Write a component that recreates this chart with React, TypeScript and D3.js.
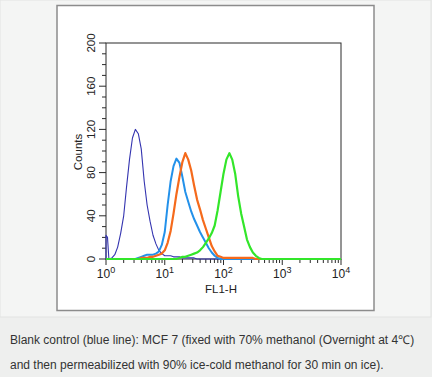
import React from "react";
import * as d3 from "d3";

// FL1-H value, count pairs
const navySeries: [number, number][] = [
  [1, 0], [1, 22], [1.06, 20], [1.12, 0], [1.26, 1], [1.41, 4], [1.58, 11], [1.78, 24], [2, 40], [2.24, 67],
  [2.51, 92], [2.82, 112], [3.16, 120], [3.55, 116], [3.98, 102], [4.47, 72], [5.01, 50],
  [5.62, 35], [6.31, 22], [7.08, 14], [7.94, 8], [8.91, 5], [10, 3], [11.2, 3], [12.6, 3],
  [14.1, 2], [15.8, 2], [17.8, 2], [20, 1], [22.4, 1], [25.1, 1], [28.2, 1], [31.6, 1],
  [35.5, 0], [10000, 0],
];
const lightBlueSeries: [number, number][] = [
  [1, 0], [3.16, 0], [3.55, 1], [3.98, 2], [4.47, 3], [5.01, 4], [5.62, 4], [6.31, 4], [7.08, 5],
  [7.94, 7], [8.91, 13], [10, 25], [11.2, 50], [12.6, 72], [14.1, 86], [15.8, 93], [17.8, 89],
  [20, 76], [22.4, 62], [25.1, 53], [28.2, 44], [31.6, 37], [35.5, 31], [39.8, 25], [44.7, 20],
  [50.1, 15], [56.2, 10], [63.1, 6], [70.8, 3], [79.4, 1], [89.1, 0], [10000, 0],
];
const orangeSeries: [number, number][] = [
  [1, 0], [3.55, 0], [3.98, 1], [4.47, 1], [5.01, 1], [5.62, 2], [6.31, 2], [7.08, 3], [7.94, 4],
  [8.91, 5], [10, 8], [11.2, 15], [12.6, 26], [14.1, 42], [15.8, 60], [17.8, 76], [20, 90],
  [22.4, 98], [25.1, 92], [28.2, 82], [31.6, 68], [35.5, 55], [39.8, 46], [44.7, 36], [50.1, 28],
  [56.2, 20], [63.1, 12], [70.8, 7], [79.4, 3], [89.1, 2], [100, 1], [112, 1], [126, 1],
  [141, 1], [158, 1], [178, 1], [200, 1], [224, 1], [251, 1], [282, 1], [316, 1], [355, 0],
  [10000, 0],
];
const greenSeries: [number, number][] = [
  [1, 0], [15.8, 0], [17.8, 1], [20, 2], [22.4, 2], [25.1, 3], [28.2, 4], [31.6, 5], [35.5, 6],
  [39.8, 8], [44.7, 11], [50.1, 15], [56.2, 19], [63.1, 24], [70.8, 31], [79.4, 45], [89.1, 62],
  [100, 79], [112, 92], [126, 98], [141, 92], [158, 79], [178, 58], [200, 42], [224, 30],
  [251, 18], [282, 11], [316, 6], [355, 3], [398, 1], [447, 0], [10000, 0],
];

const yTickValues = [0, 40, 80, 120, 160, 200];
const xDecades = [1, 10, 100, 1000, 10000];
const xExponents = ["0", "1", "2", "3", "4"];
const captionLines = [
  "Blank control (blue line): MCF 7 (fixed with 70% methanol (Overnight at 4℃)",
  "and then permeabilized with 90% ice-cold methanol for 30 min on ice).",
];

const series = [
  { data: navySeries, color: "#3434b0", width: 1.1 },
  { data: lightBlueSeries, color: "#2391ea", width: 2 },
  { data: orangeSeries, color: "#f56a1c", width: 2.2 },
  { data: greenSeries, color: "#33e62a", width: 2.2 },
];

export default function App() {
  const x = d3.scaleLog().domain([1, 10000]).range([106, 341]);
  const y = d3.scaleLinear().domain([0, 200]).range([259, 43]);
  const line = d3
    .line<[number, number]>()
    .x((d) => x(d[0]))
    .y((d) => y(d[1]))
    .curve(d3.curveLinear);
  const minorY = d3.range(0, 201, 10).filter((v) => v % 40 !== 0);
  const minorX = x.ticks().filter((v) => !xDecades.includes(v));
  const font = "'Liberation Sans', Arial, sans-serif";

  return (
    <div style={{ position: "fixed", left: 0, top: 0 }}>
      <svg width={432} height={377} style={{ display: "block" }}>
        <rect x={0} y={0} width={432} height={377} fill="#eeefee" />
        <rect x={0} y={0} width={431} height={317} fill="#f4f5f4" stroke="#e2e3e2" strokeWidth={1} />
        <rect x={57} y={5.5} width={317} height={305} fill="#ffffff" stroke="#8c8c8c" strokeWidth={1.5} />

        {/* plot frame */}
        <rect x={106} y={43} width={235} height={216} fill="none" stroke="#2a2a2a" strokeWidth={1} />

        {/* y ticks */}
        {yTickValues.map((v) => (
          <line key={"ym" + v} x1={99} x2={106} y1={y(v)} y2={y(v)} stroke="#2a2a2a" strokeWidth={1} />
        ))}
        {minorY.map((v) => (
          <line key={"yn" + v} x1={102} x2={106} y1={y(v)} y2={y(v)} stroke="#2a2a2a" strokeWidth={1} />
        ))}
        {yTickValues.map((v) => (
          <text
            key={"yl" + v}
            transform={`translate(95,${y(v)}) rotate(-90)`}
            textAnchor="middle"
            fontFamily={font}
            fontSize={11.5}
            fill="#222"
          >
            {v}
          </text>
        ))}
        <text
          transform={`translate(82,152) rotate(-90)`}
          textAnchor="middle"
          fontFamily={font}
          fontSize={11.5}
          fill="#222"
        >
          Counts
        </text>

        {/* x ticks */}
        {xDecades.map((v) => (
          <line key={"xm" + v} x1={x(v)} x2={x(v)} y1={259} y2={265} stroke="#2a2a2a" strokeWidth={1} />
        ))}
        {minorX.map((v) => (
          <line key={"xn" + v} x1={x(v)} x2={x(v)} y1={259} y2={263} stroke="#2a2a2a" strokeWidth={1} />
        ))}
        {xDecades.map((v, i) => (
          <text key={"xl" + v} x={x(v)} y={278} textAnchor="middle" fontFamily={font} fontSize={12} fill="#222">
            10
            <tspan fontSize={9} dy={-5}>
              {xExponents[i]}
            </tspan>
          </text>
        ))}
        <text x={221} y={293} textAnchor="middle" fontFamily={font} fontSize={11.5} fill="#222">
          FL1-H
        </text>

        {/* histograms */}
        {series.map((s, i) => (
          <path
            key={i}
            d={line(s.data) || ""}
            fill="none"
            stroke={s.color}
            strokeWidth={s.width}
            strokeLinejoin="round"
          />
        ))}

        {/* caption */}
        {captionLines.map((t, i) => (
          <text key={i} x={10} y={343.5 + i * 25} fontFamily={font} fontSize={12} fill="#333">
            {t}
          </text>
        ))}
      </svg>
    </div>
  );
}
